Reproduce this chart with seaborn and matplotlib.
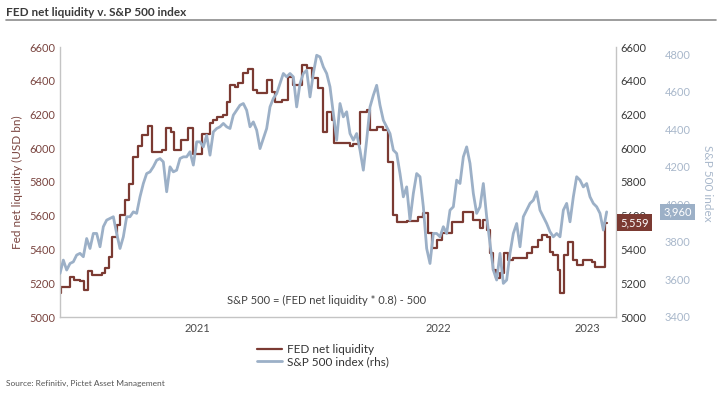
import numpy as np
import pandas as pd
import matplotlib
matplotlib.use("Agg")
import matplotlib.pyplot as plt
from matplotlib.lines import Line2D
import seaborn as sns

# S&P 500 index (rhs), one reading per time step
spx = [3632, 3703, 3650, 3685, 3694, 3730, 3739, 3721, 3818, 3765,
       3845, 3845, 3774, 3881, 3916, 3925, 3934, 3845, 3765, 3827,
       3934, 3934, 3960, 3952, 4040, 4111, 4164, 4173, 4200, 4235,
       4244, 4226, 4067, 4200, 4173, 4182, 4244, 4253, 4253, 4280,
       4209, 4333, 4333, 4306, 4368, 4262, 4386, 4404, 4413, 4431,
       4413, 4404, 4475, 4501, 4528, 4537, 4501, 4413, 4439, 4395,
       4297, 4351, 4404, 4519, 4564, 4590, 4643, 4697, 4679, 4697,
       4679, 4519, 4643, 4697, 4714, 4572, 4697, 4794, 4785, 4732,
       4697, 4626, 4484, 4342, 4537, 4466, 4493, 4377, 4342, 4377,
       4289, 4182, 4342, 4519, 4581, 4634, 4528, 4448, 4413, 4377,
       4289, 4271, 4164, 4040, 4093, 3916, 4058, 4164, 4147, 3987,
       3765, 3685, 3845, 3845, 3827, 3881, 3845, 3969, 3987, 4129,
       4111, 4253, 4306, 4218, 4058, 3952, 3987, 4111, 3934, 3792,
       3650, 3597, 3739, 3579, 3597, 3739, 3845, 3898, 3774, 3934,
       3969, 4005, 4022, 4067, 3969, 3934, 3898, 3854, 3827, 3845,
       3827, 3969, 4005, 3907, 4040, 4147, 4129, 4093, 4111, 4040,
       4005, 3987, 3952, 3863, 3960]

# FED net liquidity (USD bn): new level starts at each of these time steps
liq_t = [0, 0.3, 3, 4.3, 6, 7.3, 8.5, 9.7, 12.5, 13.5,
         14.8, 15.7, 17, 18, 19.5, 20.7, 22, 23.3, 24.7, 26.3,
         27.7, 30.5, 31.8, 33.2, 34.2, 36.3, 38.5, 40, 42.7, 45,
         46, 47, 49, 50, 51, 52.5, 53.5, 55, 56.5, 58,
         59, 62, 63.7, 64.5, 66.7, 68.5, 70, 72.5, 74, 75.5,
         77.5, 78.8, 80, 81.5, 82.3, 87, 88, 90, 92, 93,
         95, 97, 98.5, 100, 101, 104, 107.5, 109, 110.5, 111.5,
         113, 114.5, 117.5, 121, 124, 126, 127, 128, 129, 130,
         130.7, 132, 133.3, 134.5, 136, 140, 141.5, 143.5, 144.5, 146,
         147, 148, 149.5, 150, 151.3, 152.5, 154, 155, 157, 159.5,
         160.5, 163.5, 164]
liq = [5140, 5180, 5235, 5219, 5215, 5160, 5274, 5249, 5259, 5288,
       5357, 5476, 5545, 5604, 5693, 5788, 5950, 6013, 6078, 6131,
       5979, 5989, 6118, 6098, 5989, 6049, 6118, 5965, 6084, 6147,
       6167, 6183, 6197, 6276, 6374, 6365, 6384, 6444, 6469, 6345,
       6325, 6404, 6335, 6276, 6286, 6424, 6374, 6493, 6473, 6414,
       6355, 6098, 6216, 6167, 6029, 6013, 6025, 6216, 6226, 6108,
       6124, 6108, 5920, 5604, 5565, 5571, 5594, 5614, 5496, 5407,
       5456, 5496, 5565, 5624, 5575, 5525, 5575, 5515, 5377, 5278,
       5229, 5259, 5377, 5337, 5347, 5377, 5416, 5456, 5486, 5476,
       5387, 5367, 5278, 5140, 5367, 5446, 5337, 5308, 5337, 5328,
       5298, 5559, 5559]

year_pos = [41.1, 113.4, 158.1]
year_lbl = ["2021", "2022", "2023"]
liq_ticks = list(range(5000, 6601, 200))
spx_ticks = list(range(3400, 4801, 200))
liq_last = 5559
spx_last = 3960

BROWN = "#7B3A32"
BLUE = "#9CB0C7"
BLUE_TXT = "#A9B8CB"
GREY = "#C4C4C4"

sns.set_theme(style="white")
plt.rcParams["font.family"] = ["Lato", "DejaVu Sans"]

df_spx = pd.DataFrame({"t": np.arange(len(spx)), "spx": spx})
df_liq = pd.DataFrame({"t": liq_t, "liq": liq})

fig = plt.figure(figsize=(7.2, 3.94), dpi=100)
ax = fig.add_axes([60 / 720, 1 - 317 / 394, 556 / 720, 270 / 394])
ax_mid = ax.twinx()
ax_spx = ax.twinx()

sns.lineplot(data=df_liq, x="t", y="liq", ax=ax, color=BROWN, linewidth=1.6,
             drawstyle="steps-post", label="FED net liquidity", legend=False)
sns.lineplot(data=df_spx, x="t", y="spx", ax=ax_spx, color=BLUE, linewidth=2.0,
             label="S&P 500 index (rhs)", legend=False)

ax.set_xlim(0, 166.8)
ax.set_ylim(5000, 6600)
ax.set_yticks(liq_ticks)
ax.set_xticks(year_pos)
ax.set_xticklabels(year_lbl)
ax.set_xlabel("")
ax.set_ylabel("")
ax.tick_params(axis="y", length=0, pad=3.5, labelsize=8, labelcolor="#7A4540")
ax.tick_params(axis="x", length=0, pad=4, labelsize=8, labelcolor="#4A4A4A")
for side in ["left", "bottom", "right"]:
    ax.spines[side].set_color(GREY)
    ax.spines[side].set_linewidth(1.0)
ax.spines["top"].set_visible(False)

ax_mid.set_ylim(5000, 6600)
ax_mid.set_yticks(liq_ticks)
ax_mid.tick_params(axis="y", length=0, pad=3, labelsize=8, labelcolor="#3A3A3A")

ax_spx.set_ylim(3400, 4838)
ax_spx.set_yticks(spx_ticks)
ax_spx.set_ylabel("")
ax_spx.tick_params(axis="y", length=0, pad=35, labelsize=8, labelcolor=BLUE_TXT)
for a in (ax_mid, ax_spx):
    for s in a.spines.values():
        s.set_visible(False)

fig.text(17 / 720, 1 - 182 / 394, "Fed net liquidity (USD bn)", rotation=90,
         ha="center", va="center", fontsize=8.5, color="#7A4540")
fig.text(708 / 720, 1 - 183 / 394, "S&P 500 index", rotation=270,
         ha="center", va="center", fontsize=8.5, color=BLUE_TXT)

ax.text(0.30, 0.063, "S&P 500 = (FED net liquidity * 0.8) - 500",
        transform=ax.transAxes, ha="left", va="center", fontsize=8, color="#404040")

# last-value tags, drawn over the tick labels as in the original
ax_spx.annotate(f"{liq_last:,}", xy=(1, liq_last), xycoords=ax.get_yaxis_transform(),
                xytext=(3, 0), textcoords="offset points", ha="left", va="center",
                color="white", fontsize=8,
                bbox=dict(boxstyle="square,pad=0.25", fc=BROWN, ec="none"),
                annotation_clip=False, zorder=10)
ax_spx.annotate(f"{spx_last:,}", xy=(1, spx_last), xycoords=ax_spx.get_yaxis_transform(),
                xytext=(34, 0), textcoords="offset points", ha="left", va="center",
                color="white", fontsize=8,
                bbox=dict(boxstyle="square,pad=0.25", fc=BLUE, ec="none"),
                annotation_clip=False, zorder=10)

handles = [ax.get_lines()[0], ax_spx.get_lines()[0]]
fig.legend(handles, ["FED net liquidity", "S&P 500 index (rhs)"],
           loc="center left", bbox_to_anchor=(257 / 720, 1 - 356 / 394),
           frameon=False, fontsize=8.5, handlelength=2.1, handletextpad=0.45,
           borderpad=0, borderaxespad=0, labelspacing=0.1, labelcolor="#333333")

fig.text(6 / 720, 1 - 12 / 394, "FED net liquidity v. S&P 500 index",
         ha="left", va="center", fontsize=8.5, fontweight="bold", color="#3A3A3A")
fig.add_artist(Line2D([6 / 720, 716 / 720], [1 - 20 / 394] * 2,
                      color="#8C8C8C", linewidth=1.2))
fig.text(6 / 720, 1 - 383 / 394, "Source: Refinitiv, Pictet Asset Management",
         ha="left", va="center", fontsize=6, color="#555555")

fig.savefig("out.png", dpi=100)
